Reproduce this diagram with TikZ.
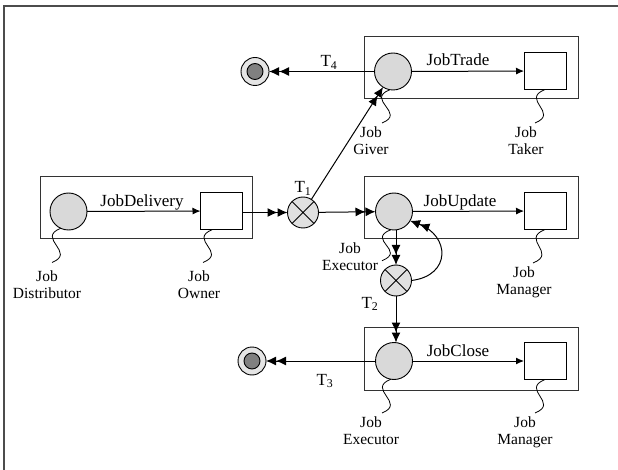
\documentclass[tikz,border=0pt]{standalone}
\usepackage{fontspec}
\setmainfont{Liberation Serif}
\usetikzlibrary{arrows.meta}
\begin{document}
\begin{tikzpicture}[x=1pt,y=-1pt,
  every node/.style={inner sep=0pt, outer sep=0pt},
  box/.style={draw=black!80, line width=1pt},
  role/.style={circle, draw, fill=black!15, minimum size=37pt, line width=0.9pt},
  sq/.style={rectangle, draw, fill=white, minimum width=42pt, minimum height=37pt, line width=0.9pt},
  trans/.style={circle, draw, fill=black!12, minimum size=31pt, line width=0.9pt,
    path picture={\draw[line width=0.9pt] (path picture bounding box.north west)--(path picture bounding box.south east)
      (path picture bounding box.north east)--(path picture bounding box.south west);}},
  fin/.style={circle, draw, fill=black!10, minimum size=28pt, line width=0.9pt},
  finin/.style={circle, draw, fill=black!50, minimum size=16pt, line width=0.9pt},
  proc/.style={font=\fontsize{17}{20}\selectfont, anchor=base},
  lab/.style={font=\fontsize{15.5}{17.5}\selectfont, align=center, anchor=north},
  tl/.style={font=\fontsize{17}{20}\selectfont, anchor=base},
  flow/.style={-{Latex[length=8pt,width=7pt]}, line width=1pt},
  dbl/.style={-{Latex[length=10pt,width=9pt]Latex[length=10pt,width=9pt]}, line width=1pt},
  wig/.style={line width=0.8pt},
]
\useasboundingbox (0,0) rectangle (618,470);
% frame
\draw[black!70, line width=1.5pt] (618,6) -- (4,6) -- (4,470);

% boxes
\draw[box] (364,37) rectangle (578,99);
\draw[box] (40,177) rectangle (252,239);
\draw[box] (364,177) rectangle (578,239);
\draw[box] (364,327) rectangle (578,390);

% roles
\node[role] (Giver) at (393,71.5) {};
\node[sq] (Taker) at (545,71) {};
\node[role] (Dist) at (68.5,211.5) {};
\node[sq] (Owner) at (221.5,211) {};
\node[role] (Exec) at (394,211.5) {};
\node[sq] (Manager) at (545,211) {};
\node[role] (Exec2) at (394,361) {};
\node[sq] (Manager2) at (545,361) {};

% transitions
\node[trans] (T1) at (303,212.5) {};
\node[trans] (T2) at (396,280.5) {};

% finals
\node[fin] (F4) at (255,71.5) {};
\node[finin] (F4i) at (255,71.5) {};
\node[fin] (F3) at (252,361) {};
\node[finin] (F3i) at (252,361) {};

% process labels
\node[proc] (LTrade) at (458,66) {JobTrade};
\node[proc] (LDel) at (142,206.5) {JobDelivery};
\node[proc] (LUpd) at (460,206.5) {JobUpdate};
\node[proc] (LClose) at (458,356) {JobClose};

% transition labels
\node[tl] (LT4) at (329,67) {T\textsubscript{4}};
\node[tl] (LT3) at (325,385) {T\textsubscript{3}};
\node[tl] (LT1) at (303,193) {T\textsubscript{1}};
\node[tl] (LT2) at (370,308) {T\textsubscript{2}};

% role labels
\node[lab] (GiverL) at (371,126.5) {Job\\Giver};
\node[lab] (TakerL) at (526,126.5) {Job\\Taker};
\node[lab] (DistL) at (47,270.5) {Job\\Distributor};
\node[lab] (OwnerL) at (199,270.5) {Job\\Owner};
\node[lab] (ExecL) at (350,242.5) {Job\\Executor};
\node[lab] (ManagerL) at (524,266.5) {Job\\Manager};
\node[lab] (Exec2L) at (371,416.5) {Job\\Executor};
\node[lab] (Manager2L) at (525,416.5) {Job\\Manager};

% process arrows
\draw[flow] (Giver) -- (Taker);
\draw[flow] (Dist) -- (Owner);
\draw[flow] (Exec) -- (Manager);
\draw[flow] (Exec2) -- (Manager2);

% transition arrows
\draw[dbl] (Giver) -- (F4);
\draw[dbl] (Exec2) -- (F3);
\draw[dbl] (Owner.east |- T1) -- (T1);
\draw[dbl] (T1) -- (Exec);
\draw[dbl] (T1) -- (Giver);
\draw[dbl] (Exec.south -| T2) -- (T2.north);
\draw[dbl] (T2.south) -- (T2.south |- Exec2.north);
\draw[dbl] (T2.east) .. controls +(40,-5) and +(40,15) .. (Exec.-30);

% wiggles
\draw[wig] (Giver.-100) .. controls +(-25,10) and +(25,-10) .. ([shift={(11,-3.5)}]GiverL.north);
\draw[wig] (Taker.south) .. controls +(-25,10) and +(25,-10) .. ([shift={(9,-3.5)}]TakerL.north);
\draw[wig] (Dist.-115) .. controls +(-25,10) and +(25,-10) .. ([shift={(5,-8)}]DistL.north);
\draw[wig] ([xshift=-9pt]Owner.south) .. controls +(-25,10) and +(25,-10) .. ([shift={(4,-8)}]OwnerL.north);
\draw[wig] (Exec.-100) .. controls +(-25,10) and +(25,-10) .. ([shift={(4,4)}]ExecL.east);
\draw[wig] (Manager.south) .. controls +(-25,10) and +(25,-10) .. ([shift={(9,-3.5)}]ManagerL.north);
\draw[wig] (Exec2.-100) .. controls +(-25,10) and +(25,-10) .. ([shift={(11,-3.5)}]Exec2L.north);
\draw[wig] (Manager2.south) .. controls +(-25,10) and +(25,-10) .. ([shift={(10,-3.5)}]Manager2L.north);
\end{tikzpicture}
\end{document}
